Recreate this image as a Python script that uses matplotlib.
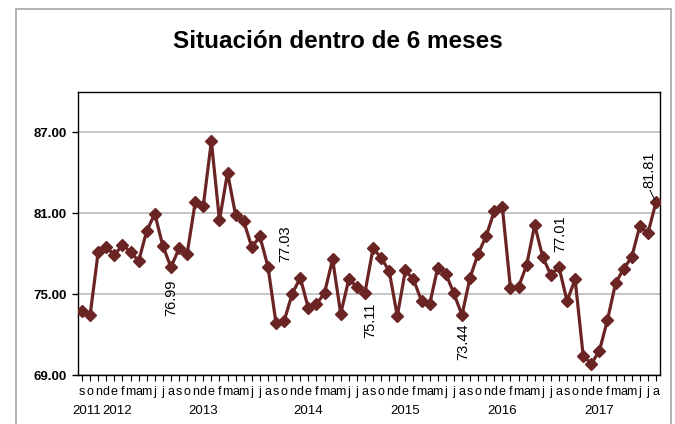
import matplotlib.pyplot as plt
from matplotlib.patches import Rectangle
import matplotlib.transforms as mtransforms

plt.rcParams['font.family'] = ['Liberation Sans Narrow', 'Liberation Sans', 'DejaVu Sans']

# indice mensual, septiembre 2011 - agosto 2017
values = [73.74, 73.44, 78.13, 78.48, 77.89, 78.63, 78.13, 77.44, 79.67, 80.95,
          78.56, 76.99, 78.38, 77.99, 81.79, 81.54, 86.33, 80.46, 83.99, 80.85,
          80.41, 78.48, 79.27, 77.03, 72.83, 73.00, 75.02, 76.21, 73.94, 74.23,
          75.10, 77.57, 73.54, 76.09, 75.54, 75.11, 78.38, 77.69, 76.70, 73.37,
          76.75, 76.09, 74.48, 74.23, 76.95, 76.51, 75.05, 73.44, 76.21, 77.99,
          79.30, 81.15, 81.44, 75.42, 75.52, 77.15, 80.11, 77.74, 76.41, 77.01,
          74.48, 76.09, 70.41, 69.84, 70.78, 73.07, 75.79, 76.88, 77.74, 80.04,
          79.49, 81.81]
month_letters = ['s', 'o', 'n', 'd'] + ['e', 'f', 'm', 'a', 'm', 'j', 'j', 'a', 's', 'o', 'n', 'd'] * 5 \
    + ['e', 'f', 'm', 'a', 'm', 'j', 'j', 'a']
years = ['2011', '2012', '2013', '2014', '2015', '2016', '2017']
year_pos = [0.6, 4.4, 15, 28, 40, 52, 64]
yticks = [69, 75, 81, 87]

# etiquetas: (indice, desplazamiento x px, desplazamiento y px)
label_idx = [11, 23, 35, 47, 59, 71]
label_off = [(0, -31), (17, 23), (5, -28), (1, -27), (1, 33), (-7, 32)]

x = list(range(len(values)))
line_color = '#6b2424'

fig = plt.figure(figsize=(6.75, 4.24), dpi=100)
fig.patches.append(Rectangle((16 / 675, -0.1), (671 - 16) / 675, 1.1 - 9 / 424,
                             transform=fig.transFigure, fill=False,
                             edgecolor='#a6a6a6', linewidth=1.2))
ax = fig.add_axes([78 / 675, 1 - 375 / 424, (660 - 78) / 675, (375 - 91.7) / 424])

ax.plot(x, values, color=line_color, linewidth=2.3, marker='D', markersize=6.2,
        markerfacecolor=line_color, markeredgecolor=line_color, zorder=3)

ax.set_xlim(-0.5, len(values) - 0.5)
ax.set_ylim(69, 90)
ax.set_yticks(yticks)
ax.set_yticklabels(['%.2f' % v for v in yticks], fontsize=9.5, fontweight='bold')
ax.yaxis.grid(True, color='#c0c0c0', linewidth=1.3)
ax.set_axisbelow(True)
ax.tick_params(axis='y', length=4, width=1, pad=4)

ax.set_xticks(x)
ax.set_xticklabels(month_letters, fontsize=9)
ax.tick_params(axis='x', length=4, width=0.8, pad=4)

for s in ax.spines.values():
    s.set_color('black')
    s.set_linewidth(1.0)

trans = mtransforms.blended_transform_factory(ax.transData, ax.transAxes)
for yr, p in zip(years, year_pos):
    ax.text(p, -36 / 283.3, yr, transform=trans, ha='center', va='center', fontsize=9.5)

for i, (dx, dy) in zip(label_idx, label_off):
    ax.annotate('%.2f' % values[i], xy=(i, values[i]),
                xytext=(dx * 0.72, dy * 0.72), textcoords='offset points',
                rotation=90, ha='center', va='center', fontsize=10.5)
# linea guia de la ultima etiqueta
ax.annotate('', xy=(71, values[71]), xytext=(-6 * 0.72, 12 * 0.72), textcoords='offset points',
            arrowprops=dict(arrowstyle='-', color='black', linewidth=0.7, shrinkA=0, shrinkB=2))

fig.text(338 / 675, 1 - 42 / 424, 'Situación dentro de 6 meses', ha='center', va='center',
         fontsize=17.5, fontweight='bold')

fig.savefig('out.png', dpi=100)
